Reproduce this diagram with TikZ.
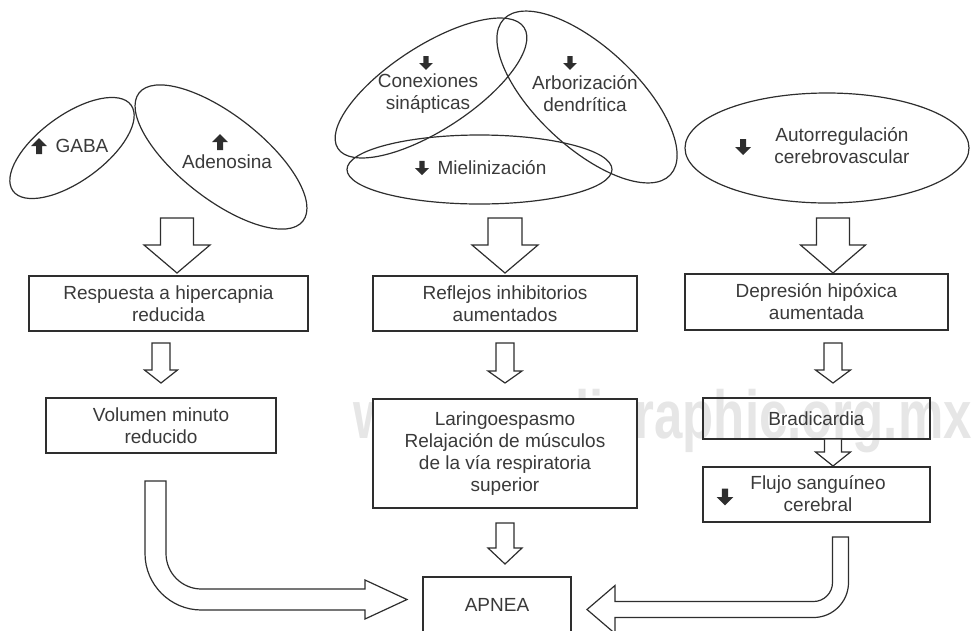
\documentclass[tikz,border=0pt]{standalone}
\usepackage{fontspec}
\setmainfont{Liberation Sans}
\usepackage{graphicx}
\usetikzlibrary{shapes.geometric}
\definecolor{ink}{HTML}{2E2E2E}
\definecolor{txt}{HTML}{3A3A3A}
\definecolor{wm}{HTML}{E6E6E6}
\newcommand\dnblk[6]{% cx, top, neck, tip, shaft half-width, head half-width
  \draw[blk] ({#1-#5},#2) -- ({#1+#5},#2) -- ({#1+#5},#3) -- ({#1+#6},#3) -- (#1,#4) -- ({#1-#6},#3) -- ({#1-#5},#3) -- cycle;}
\begin{document}
\begin{tikzpicture}[x=1pt,y=-1pt,
  font=\fontsize{19}{22}\selectfont,
  box/.style={draw=ink, line width=1.3pt, rectangle, inner sep=0, text=txt, align=center},
  oval/.style={draw=ink, line width=1.2pt, ellipse, inner sep=0},
  lbl/.style={text=txt, align=center, inner sep=0},
  blk/.style={draw=ink, line width=1.2pt, fill=white, line join=miter},
  upico/.pic={\fill[ink] (0,-8) -- (8,0) -- (3,0) -- (3,8) -- (-3,8) -- (-3,0) -- (-8,0) -- cycle;},
  dnico/.pic={\fill[ink] (0,8) -- (8,0) -- (3,0) -- (3,-8) -- (-3,-8) -- (-3,0) -- (-8,0) -- cycle;}
]
\useasboundingbox (0,0) rectangle (971,630);
\clip (0,0) rectangle (971,630);

% watermark
\node[anchor=base east, text=wm, font=\fontsize{68}{68}\bfseries\selectfont, inner sep=0] (wmark) at (972,438) {\scalebox{0.75}[1]{www.medigraphic.org.mx}};

% ellipses
\node[oval, minimum width=146, minimum height=66, rotate=36] (eGABA) at (72,148) {};
\node[oval, minimum width=208, minimum height=84, rotate=-38] (eAden) at (221,157) {};
\node[oval, minimum width=222, minimum height=84, rotate=33] (eCon) at (431,88) {};
\node[oval, minimum width=228, minimum height=100, rotate=-43] (eArb) at (587,97) {};
\node[oval, minimum width=265, minimum height=69] (eMiel) at (479.5,169.5) {};
\node[oval, minimum width=284, minimum height=110] (eAuto) at (827,148) {};

% ellipse labels
\pic at (39,146) {upico};
\node[lbl] (tGABA) at (82,146) {GABA};
\pic at (220,142) {upico};
\node[lbl] (tAden) at (227,162) {Adenosina};
\pic[scale=0.85] at (426,63) {dnico};
\node[lbl] (tCon) at (428,94) {Conexiones\\sinápticas};
\pic[scale=0.85] at (570,63) {dnico};
\node[lbl] (tArb) at (585,94) {Arborización\\dendrítica};
\pic[scale=0.9] at (422,168) {dnico};
\node[lbl] (tMiel) at (492,168) {Mielinización};
\pic at (743,147) {dnico};
\node[lbl] (tAuto) at (842,146) {Autorregulación\\cerebrovascular};

% boxes
\node[box, minimum width=279, minimum height=55] (resp) at (168.5,303.5) {Respuesta a hipercapnia\\reducida};
\node[box, minimum width=230, minimum height=55] (vol) at (161,425.5) {Volumen minuto\\reducido};
\node[box, minimum width=264, minimum height=55] (refl) at (505,303.5) {Reflejos inhibitorios\\aumentados};
\node[box, fill=white, minimum width=264, minimum height=109] (lar) at (505,453.5) {Laringoespasmo\\Relajación de músculos\\de la vía respiratoria\\superior};
\node[box, minimum width=263, minimum height=56] (dep) at (816.5,302) {Depresión hipóxica\\aumentada};
\node[box, minimum width=227, minimum height=41] (brad) at (816.5,418.5) {Bradicardia};
\node[box, minimum width=227, minimum height=55] (flujo) at (816.5,494.5) {};
\node[lbl] (tFlujo) at (818,494) {Flujo sanguíneo\\cerebral};
\pic[scale=1.05] at (725,497) {dnico};
\node[box, minimum width=148, minimum height=80] (apnea) at (497,617) {};
\node[lbl] (tApnea) at (497,605) {APNEA};

% big block arrows
\dnblk{177}{218}{245}{273}{16.5}{33}
\dnblk{505}{218}{245}{273}{17}{33}
\dnblk{833}{218}{245}{273}{16.5}{32.5}
% small block arrows
\dnblk{161}{343}{370}{383}{9}{16.5}
\dnblk{505}{343}{371}{383}{9}{17}
\dnblk{833}{343}{370}{383}{9}{17.5}
\dnblk{833}{439}{452}{466}{8.5}{17.5}
\dnblk{505}{523}{548}{564}{9}{17}

% curved arrows to APNEA
\draw[blk] (145,481) -- (145,553.5) arc[start angle=180, end angle=90, radius=56.5]
  -- (365,610) -- (365,619) -- (407,599.5) -- (365,580) -- (365,589) -- (201.5,589)
  arc[start angle=90, end angle=180, radius=35.5] -- (166,481) -- cycle;
\draw[blk] (848.5,537) -- (848.5,582.5) arc[start angle=0, end angle=90, radius=35]
  -- (615,617.5) -- (615,633.5) -- (587,609.5) -- (615,585.5) -- (615,601.5) -- (813.5,601.5)
  arc[start angle=90, end angle=0, radius=19] -- (832.5,537) -- cycle;
\end{tikzpicture}
\end{document}
